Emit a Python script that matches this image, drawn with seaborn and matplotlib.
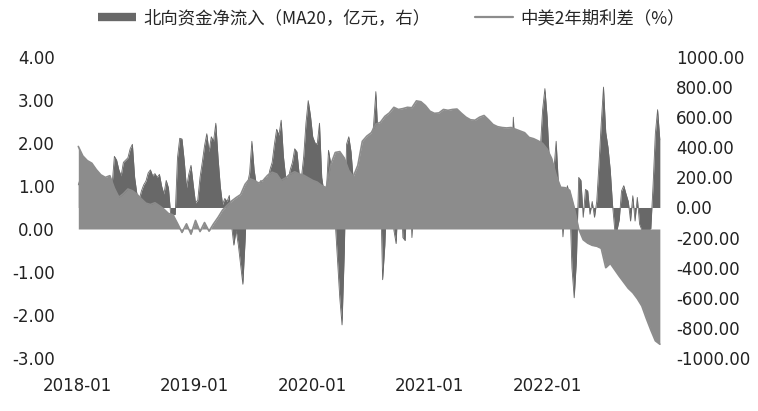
import numpy as np
import pandas as pd
import seaborn as sns
import matplotlib.pyplot as plt
import matplotlib.dates as mdates
from matplotlib.lines import Line2D

#### data ####

# 中美2年期利差 (%), left axis, one value every two weeks from 2018-01-05
spread_start = '2018-01-05'
spread = [1.92, 1.70, 1.59, 1.53, 1.38, 1.26, 1.20, 1.24, 0.95, 0.74,
          0.82, 0.93, 0.89, 0.81, 0.70, 0.60, 0.57, 0.61, 0.54, 0.46,
          0.36, 0.33, 0.13, -0.08, 0.12, -0.12, 0.20, -0.06, 0.15, -0.05,
          0.12, 0.27, 0.44, 0.55, 0.65, 0.73, 0.80, 1.04, 1.17, 1.13,
          1.07, 1.13, 1.25, 1.32, 1.28, 1.13, 1.19, 1.28, 1.33, 1.28,
          1.25, 1.19, 1.13, 1.09, 1.01, 0.96, 1.50, 1.78, 1.80, 1.65,
          1.36, 1.22, 1.48, 2.04, 2.16, 2.24, 2.44, 2.48, 2.62, 2.70,
          2.83, 2.78, 2.80, 2.83, 2.82, 2.98, 2.96, 2.87, 2.74, 2.69,
          2.70, 2.78, 2.76, 2.78, 2.79, 2.69, 2.60, 2.54, 2.53, 2.60,
          2.64, 2.54, 2.43, 2.38, 2.36, 2.35, 2.36, 2.32, 2.28, 2.24,
          2.13, 2.10, 2.05, 1.99, 1.86, 1.64, 1.25, 0.97, 0.96, 0.90,
          0.50, 0.00, -0.25, -0.33, -0.38, -0.40, -0.45, -0.90, -0.80, -0.95,
          -1.10, -1.24, -1.38, -1.48, -1.62, -1.79, -2.08, -2.35, -2.60, -2.68]

# 北向资金净流入 MA20 (亿元), right axis, weekly from 2018-01-05
flows_start = '2018-01-05'
flows = [150, 200, 250, 180, 120, 200, 150, 100, 180, 220,
         150, 200, 160, 120, 100, 150, 340, 315, 250, 210,
         300, 315, 330, 390, 420, 200, 90, 50, 110, 150,
         175, 230, 250, 210, 225, 200, 220, 140, 90, 180,
         130, -50, -50, -45, 330, 460, 455, 310, 130, 220,
         280, 150, 30, 50, 200, 300, 410, 490, 370, 470,
         440, 560, 330, 140, 20, 60, 40, 80, -120, -250,
         -150, -250, -380, -510, -220, 150, 230, 440, 250, 150,
         120, 180, 150, 200, 180, 250, 300, 420, 520, 480,
         580, 340, 200, 180, 250, 300, 390, 370, 220, 200,
         340, 560, 710, 610, 470, 430, 420, 560, 200, 100,
         90, 380, 290, 150, -100, -350, -600, -780, -300, 420,
         470, 370, 180, 150, 200, 250, 300, 250, 350, 300,
         400, 550, 770, 450, 200, -480, -250, 150, 300, 200,
         -150, -240, 100, 200, -200, -220, 150, 200, -200, 100,
         250, 300, 200, 150, 350, 400, 300, 250, 200, 150,
         100, 180, 250, 300, 350, 280, 200, 150, 120, 200,
         250, 300, 220, 180, 150, 100, 80, 150, 200, 250,
         300, 200, 150, 100, 180, 220, 250, 200, 150, 120,
         100, 150, 200, 600, 300, 250, 200, 150, 250, 300,
         200, 250, 350, 300, 250, 400, 650, 790, 600, 300,
         200, 250, 440, 150, 100, -195, 80, 145, 60, -400,
         -600, -350, 200, 180, -65, 120, 110, -45, 40, -65,
         40, 290, 560, 800, 500, 400, 250, 20, -150, -150,
         -80, 110, 145, 90, 40, -90, 78, -90, 67, -110,
         -150, -150, -150, -150, -140, 150, 490, 650, 450]

flows_label = '北向资金净流入（MA20，亿元，右）'
spread_label = '中美2年期利差（%）'
year_ticks = ['2018-01-01', '2019-01-01', '2020-01-01', '2021-01-01', '2022-01-01']

spread_df = pd.DataFrame({
    'date': pd.date_range(spread_start, periods=len(spread), freq='2W-FRI'),
    'spread': spread,
})
flows_df = pd.DataFrame({
    'date': pd.date_range(flows_start, periods=len(flows), freq='W-FRI'),
    'flows': flows,
})

#### plot ####

sns.set_theme(style='white')
plt.rcParams['font.family'] = ['Noto Sans CJK SC', 'DejaVu Sans']

LIGHT = '#8c8c8c'
DARK = '#686868'

fig = plt.figure(figsize=(7.58, 4.11), dpi=100)
ax = fig.add_axes([0.1016, 0.129, 0.7757, 0.7323])
ax2 = ax.twinx()

# flows on the right axis, drawn behind the spread area
ax2.fill_between(flows_df['date'], flows_df['flows'], 0, color=DARK, lw=0)
sns.lineplot(data=flows_df, x='date', y='flows', ax=ax2, color=DARK, lw=0.6)

# spread on the left axis, in front
ax.fill_between(spread_df['date'], spread_df['spread'], 0, color=LIGHT, lw=0)
sns.lineplot(data=spread_df, x='date', y='spread', ax=ax, color=LIGHT, lw=1.2)

ax.set_zorder(ax2.get_zorder() + 1)
ax.patch.set_visible(False)

ax.set_ylim(-3, 4)
ax2.set_ylim(-1000, 1000)
ax.set_yticks(np.arange(-3, 5, 1))
ax2.set_yticks(np.arange(-1000, 1001, 200))
ax.yaxis.set_major_formatter(plt.FuncFormatter(lambda v, p: f'{v:.2f}'))
ax2.yaxis.set_major_formatter(plt.FuncFormatter(lambda v, p: f'{v:.2f}'))

ax.set_xlim(pd.Timestamp('2018-01-01'), pd.Timestamp('2023-01-01'))
ax.set_xticks(pd.to_datetime(year_ticks))
ax.xaxis.set_major_formatter(mdates.DateFormatter('%Y-%m'))

for a in (ax, ax2):
    a.set_xlabel('')
    a.set_ylabel('')
    for s in a.spines.values():
        s.set_visible(False)
    a.grid(False)

ax.tick_params(axis='x', length=0, pad=14, labelsize=12, colors='#222222')
ax.tick_params(axis='y', length=0, pad=16, labelsize=12, colors='#222222')
ax2.tick_params(axis='y', length=0, pad=8, labelsize=12, colors='#222222')
for lab in ax.get_xticklabels() + ax.get_yticklabels() + ax2.get_yticklabels():
    lab.set_fontfamily('DejaVu Sans')

# legend across the top
handles = [Line2D([], [], color=DARK, lw=6, solid_capstyle='butt'),
           Line2D([], [], color=LIGHT, lw=1.6)]
fig.legend(handles, [flows_label, spread_label], loc='center left',
           bbox_to_anchor=(0.129, 0.956), ncol=2, frameon=False,
           fontsize=12.5, handlelength=2.2, handletextpad=0.4,
           columnspacing=2.6, borderpad=0, borderaxespad=0)

plt.savefig('out.png', dpi=100)
